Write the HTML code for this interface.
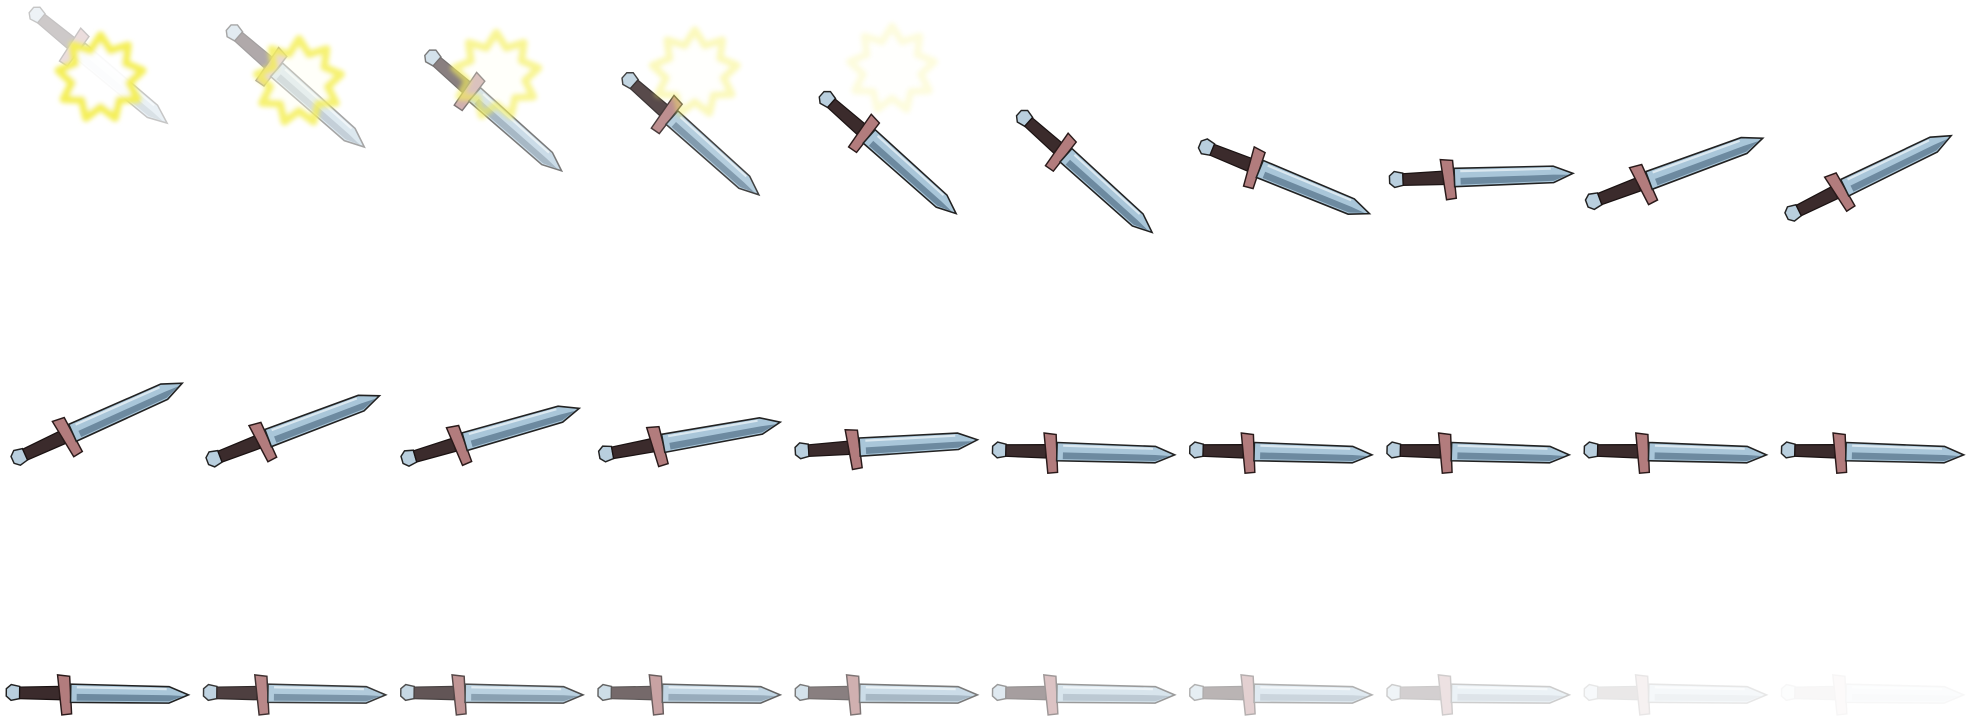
<!DOCTYPE html>
<html><head><meta charset="utf-8"><style>
html,body{margin:0;padding:0;background:#fff;width:1970px;height:720px;overflow:hidden}
svg{display:block}
</style></head><body>
<svg id="sheet" width="1970" height="720" viewBox="0 0 1568 573" preserveAspectRatio="none" xmlns="http://www.w3.org/2000/svg">
<defs>
<filter id="glow" x="-50%" y="-50%" width="200%" height="200%"><feGaussianBlur stdDeviation="1.8"/></filter>
<g id="sword">
  <path d="M0,-3 L4,-6.5 L11,-5 L11,5 L4,6.5 L0,3 Z" fill="#b9cfde" stroke="#222" stroke-width="1.2"/>
  <path d="M11,-4.5 L44,-5.5 L44,5.5 L11,5 Z" fill="#3b2b2c" stroke="#1a1212" stroke-width="1"/>
  <path d="M42,-15 L52,-14 L54,17 L46,18 Z" fill="#b27c7d" stroke="#2a1a1a" stroke-width="1.2"/>
  <path d="M53,-7.5 L134,-6.5 L150,0 L134,7 L53,7.5 Z" fill="#a9c6d9" stroke="#222" stroke-width="1.3"/>
  <path d="M58,0.5 L134,0.5 L146,1 L134,5.5 L58,6 Z" fill="#6d8aa0"/>
  <path d="M58,-5 L132,-4.5" stroke="#dbe8f0" stroke-width="1.8"/>
</g>
</defs>
</svg>
<script>
const px=[25,182,340,497,654,811,955,1106,1263,1422, 10,165,320,477,633,790,947,1104,1261,1418, 5,162,319,476,633,790,947,1104,1261,1418];
const py=[8,22,42,60,75,90,115,143,162,172, 366,367,366,362,359,358,358,358,358,358, 551,551,551,551,551,551,551,551,551,551];
const tx=[133,290,447,604,761,917,1090,1252,1403,1553, 145,302,461,621,778,935,1092,1249,1406,1563, 150,307,464,621,778,935,1092,1249,1406,1563];
const ty=[98,117,136,155,170,185,170,138,110,108, 305,315,325,336,350,362,362,362,362,362, 553,553,553,553,553,553,553,553,553,553];
const op=[0.25,0.4,0.6,0.85,1,1,1,1,1,1, 1,1,1,1,1,1,1,1,1,1, 1,0.9,0.8,0.7,0.6,0.45,0.35,0.22,0.1,0.03];
const sx=[80,238,395,553,710];
const sy=[62,65,60,58,55];
const so=[1,0.85,0.65,0.4,0.2];
const NS='http://www.w3.org/2000/svg';
const svg=document.getElementById('sheet');
for(let i=0;i<px.length;i++){
  const dx=tx[i]-px[i],dy=ty[i]-py[i];
  const L=Math.hypot(dx,dy),a=Math.atan2(dy,dx)*180/Math.PI;
  const u=document.createElementNS(NS,'use');
  u.setAttribute('href','#sword');
  u.setAttribute('transform',`translate(${px[i]},${py[i]}) rotate(${a}) scale(${L/150})`);
  u.setAttribute('opacity',op[i]);
  
  
  svg.appendChild(u);
}
function starPath(cx,cy,r1,r2,n){let d='';for(let k=0;k<n*2;k++){const r=k%2?r2:r1;const t=k*Math.PI/n-Math.PI/2;d+=(k?'L':'M')+(cx+r*Math.cos(t)).toFixed(1)+','+(cy+r*Math.sin(t)).toFixed(1);}return d+'Z';}
for(let i=0;i<sx.length;i++){
  const g=document.createElementNS(NS,'g');
  g.setAttribute('opacity',so[i]);
  
  
  const p=document.createElementNS(NS,'path');
  p.setAttribute('d',starPath(sx[i],sy[i],34,23,9));
  p.setAttribute('fill',i<1?'rgba(255,255,255,0.9)':'rgba(255,255,235,0.35)');
  p.setAttribute('stroke','#f4ef5a');
  p.setAttribute('stroke-width','6');
  p.setAttribute('stroke-linejoin','round');
  p.setAttribute('filter','url(#glow)');
  
  
  g.appendChild(p);
  svg.appendChild(g);
}
</script>
</body></html>
